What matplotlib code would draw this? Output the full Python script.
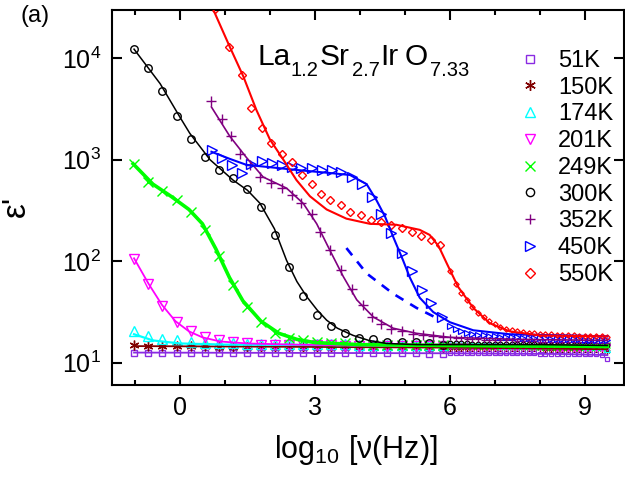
import matplotlib
matplotlib.use('Agg')
import matplotlib.pyplot as plt
from matplotlib.lines import Line2D
from matplotlib.ticker import FixedLocator, NullLocator, FixedFormatter

plt.rcParams['font.family'] = ['Liberation Sans', 'DejaVu Sans']
plt.rcParams['mathtext.fontset'] = 'custom'
plt.rcParams['mathtext.rm'] = 'Liberation Sans'
plt.rcParams['mathtext.it'] = 'Liberation Sans:italic'
plt.rcParams['mathtext.default'] = 'regular'

# ---------------- data (x = log10 frequency, y = epsilon') ----------------
labels = ['51K', '150K', '174K', '201K', '249K', '300K', '352K', '450K', '550K']

logf_a = [-1.02, -0.70, -0.39, -0.07, 0.24, 0.56, 0.87, 1.18, 1.50, 1.81, 2.12, 2.43,
          2.74, 3.05, 3.36, 3.67, 3.98, 4.30, 4.61, 4.93, 5.24, 5.54, 5.85]
logf_hf = [6.0, 6.125, 6.25, 6.375, 6.5, 6.625, 6.75, 6.875, 7.0, 7.125, 7.25, 7.375,
           7.5, 7.625, 7.75, 7.875, 8.0, 8.125, 8.25, 8.375, 8.5, 8.625, 8.75, 8.875,
           9.0, 9.125, 9.25, 9.375, 9.5]
logf_352 = [0.69, 0.93, 1.13, 1.33, 1.56, 1.78, 2.02, 2.26, 2.48, 2.70, 2.93, 3.11,
            3.33, 3.57, 3.82, 4.06, 4.26, 4.48, 4.70, 4.93, 5.17, 5.40, 5.62, 5.85]
logf_450 = [0.72, 0.93, 1.15, 1.38, 1.59, 1.82, 2.04, 2.26, 2.48, 2.70, 2.93, 3.15,
            3.37, 3.59, 3.82, 4.04, 4.26, 4.48, 4.70, 4.93, 5.15, 5.37, 5.59, 5.82]
logf_550 = [0.79, 1.09, 1.39, 1.59, 1.82, 2.02, 2.26, 2.49, 2.72, 2.93, 3.13, 3.33,
            3.57, 3.79, 4.02, 4.24, 4.48, 4.70, 4.93, 5.15, 5.35, 5.57, 5.79]

eps_51K = [12.6, 12.6, 12.6, 12.6, 12.6, 12.6, 12.6, 12.5, 12.5, 12.5, 12.5, 12.5,
           12.5, 12.5, 12.5, 12.4, 12.4, 12.4, 12.4, 12.4, 12.4, 12.3, 12.3]
eps_150K = [14.8, 14.5, 14.5, 14.5, 14.5, 14.5, 14.4, 14.4, 14.4, 14.4, 14.4, 14.3,
            14.3, 14.3, 14.3, 14.3, 14.2, 14.2, 14.2, 14.2, 14.2, 14.1, 14.1]
eps_174K = [20.4, 18.2, 17.0, 16.6, 16.2, 15.8, 15.5, 15.5, 15.4, 15.4, 15.3, 15.3,
            15.3, 15.2, 15.2, 15.2, 15.1, 15.1, 15.1, 15.0, 15.0, 15.0, 14.9]
eps_201K = [105, 60.3, 36.3, 25.1, 20.4, 17.8, 16.6, 16.2, 15.5, 15.1, 15.1, 14.8,
            14.8, 14.8, 14.8, 14.5, 14.5, 14.5, 14.5, 14.5, 14.5, 14.5, 14.5]
eps_249K = [912, 603, 490, 398, 309, 204, 112, 58.9, 35.5, 25.1, 19.5, 17.4,
            16.6, 16.2, 15.8, 15.5, 15.5, 15.1, 15.1, 15.1, 14.8, 14.8, 14.8]
eps_300K = [12300, 7940, 4790, 2690, 1585, 1060, 794, 661, 513, 339, 182, 87.1,
            45.7, 29.5, 22.9, 19.5, 17.4, 17.0, 16.2, 16.2, 16.2, 15.5, 15.1]
eps_352K = [3800, 2510, 1700, 1150, 891, 676, 589, 525, 447, 372, 295, 195,
            129, 81.3, 53.7, 37.2, 28.2, 24.0, 21.4, 20.4, 19.1, 18.6, 18.2, 17.8]
eps_450K = [1260, 1050, 891, 741, 912, 977, 933, 891, 851, 832, 832, 794,
            794, 759, 676, 575, 427, 295, 191, 120, 79.4, 52.5, 38.9, 28.2]
eps_550K = [30900, 12900, 6920, 3240, 2040, 1450, 1150, 955, 708, 575, 457, 398,
            355, 309, 288, 257, 245, 229, 214, 195, 178, 162, 145]

hf_51K = [12.6, 12.6, 12.6, 12.6, 12.5, 12.5, 12.5, 12.5, 12.5, 12.5, 12.4, 12.4, 12.4,
          12.4, 12.4, 12.4, 12.3, 12.3, 12.3, 12.3, 12.3, 12.3, 12.2, 12.2, 12.2, 12.1,
          12.1, 12.0, 11.0]
hf_150K = [14.1, 14.1, 14.1, 14.1, 14.1, 14.0, 14.0, 14.0, 14.0, 14.0, 14.0, 13.9, 13.9,
           13.9, 13.9, 13.9, 13.9, 13.8, 13.8, 13.8, 13.8, 13.8, 13.8, 13.7, 13.7, 13.7,
           13.6, 13.6, 13.0]
hf_174K = [14.9, 14.9, 14.9, 14.9, 14.8, 14.8, 14.8, 14.8, 14.8, 14.7, 14.7, 14.7, 14.7,
           14.7, 14.6, 14.6, 14.6, 14.6, 14.6, 14.5, 14.5, 14.5, 14.5, 14.5, 14.4, 14.4,
           14.4, 14.3, 13.8]
hf_201K = [14.5, 14.5, 14.5, 14.5, 14.4, 14.4, 14.4, 14.4, 14.4, 14.3, 14.3, 14.3, 14.3,
           14.3, 14.2, 14.2, 14.2, 14.2, 14.2, 14.1, 14.1, 14.1, 14.1, 14.1, 14.0, 14.0,
           14.0, 13.9, 14.2]
hf_249K = [14.8, 14.8, 14.8, 14.8, 14.7, 14.7, 14.7, 14.7, 14.6, 14.6, 14.6, 14.6, 14.5,
           14.5, 14.5, 14.5, 14.4, 14.4, 14.4, 14.4, 14.3, 14.3, 14.3, 14.3, 14.2, 14.2,
           14.2, 14.2, 14.9]
hf_300K = [15.5, 15.5, 15.5, 15.5, 15.4, 15.4, 15.4, 15.4, 15.3, 15.3, 15.3, 15.3, 15.2,
           15.2, 15.2, 15.2, 15.1, 15.1, 15.1, 15.1, 15.0, 15.0, 15.0, 15.0, 15.0, 14.9,
           14.9, 14.9, 14.9]
hf_352K = [17.8, 17.4, 17.4, 17.0, 17.0, 17.0, 16.8, 16.8, 16.6, 16.6, 16.6, 16.6, 16.4,
           16.4, 16.4, 16.4, 16.2, 16.2, 16.2, 16.2, 16.2, 16.0, 16.0, 16.0, 16.0, 16.0,
           15.8, 15.8, 15.8]
hf_450K = [22.9, 21.4, 20.4, 19.5, 19.1, 18.6, 18.6, 18.2, 18.2, 17.8, 17.8, 17.8, 17.8,
           17.4, 17.4, 17.4, 17.4, 17.4, 17.0, 17.0, 17.0, 17.0, 17.0, 17.0, 16.6, 16.6,
           16.6, 16.6, 16.6]
hf_550K = [79.4, 60.3, 49.0, 41.7, 35.5, 30.9, 28.2, 25.7, 24.0, 22.4, 21.4, 20.9, 20.4,
           20.0, 19.5, 19.5, 19.1, 19.1, 19.1, 18.6, 18.6, 18.6, 18.6, 18.2, 18.2, 18.2,
           18.2, 18.2, 17.8]

# fitted curves
fitx_51K = [-1.02, 3.0, 6.0, 8.5, 9.5]
fity_51K = [12.6, 12.5, 12.4, 12.2, 11.9]
fitx_150K = [-1.02, 2.0, 6.0, 9.5]
fity_150K = [14.6, 14.4, 14.1, 13.6]
fitx_174K = [-1.02, -0.6, 0.0, 1.0, 4.0, 9.5]
fity_174K = [19.1, 16.6, 15.5, 15.1, 14.9, 14.5]
fitx_201K = [-1.02, -0.7, -0.4, -0.1, 0.2, 0.5, 0.9, 1.5, 2.5, 4.0, 6.0, 9.5]
fity_201K = [107, 60.3, 37.2, 25.7, 20.4, 17.8, 16.2, 15.5, 15.1, 14.8, 14.8, 14.5]
fitx_249K = [-1.04, -0.6, -0.2, 0.2, 0.5, 0.8, 1.1, 1.4, 1.8, 2.2, 2.6, 3.0, 4.0, 6.0, 9.5]
fity_249K = [912, 575, 437, 324, 234, 132, 69.2, 40.7, 25.7, 19.5, 17.0, 15.8, 15.1, 14.8, 14.5]
fitx_300K = [-1.02, -0.44, 0.0, 0.22, 0.67, 1.18, 1.5, 1.78, 2.1, 2.37, 2.6, 2.82, 3.05,
             3.26, 3.5, 3.85, 4.2, 4.59, 5.26, 6.5, 8.0, 9.5]
fity_300K = [12300, 5620, 2630, 1820, 1000, 631, 501, 372, 209, 102, 63.1, 44.7, 33.1,
             26.3, 21.9, 18.6, 16.6, 15.5, 15.1, 15.1, 15.1, 14.8]
fitx_352K = [0.70, 1.11, 1.48, 1.85, 2.37, 2.74, 3.04, 3.33, 3.63, 3.93, 4.30, 4.74, 5.26,
             6.0, 7.5, 9.5]
fity_352K = [3310, 1700, 1050, 676, 525, 372, 234, 129, 70.8, 41.7, 28.2, 21.9, 19.5,
             17.8, 17.0, 16.6]
fitx_450K = [0.70, 1.11, 1.48, 1.93, 2.59, 3.33, 3.78, 4.15, 4.37, 4.56, 4.74, 4.96, 5.11,
             5.33, 5.63, 6.0, 6.52, 7.33, 9.5]
fity_450K = [1200, 1020, 891, 851, 794, 741, 708, 575, 398, 275, 174, 102, 69.2,
             43.7, 31.6, 25.1, 20.9, 19.1, 18.2]
dashx_450K = [3.70, 4.15, 4.74, 5.26, 5.80]
dashy_450K = [135, 75.9, 47.9, 34.7, 26.3]
fitx_550K = [0.60, 1.11, 1.41, 1.70, 2.0, 2.30, 2.59, 2.89, 3.26, 3.70, 4.22, 4.81, 5.33,
             5.55, 5.75, 5.93, 6.18, 6.52, 6.89, 7.33, 8.0, 9.5]
fity_550K = [41700, 12900, 6610, 3090, 1585, 1000, 631, 437, 324, 263, 234, 229, 204,
             182, 141, 95.5, 56.2, 34.7, 24.5, 20.4, 18.6, 18.2]

# title pieces: (text, is_subscript, left pixel)
title_parts = [('La', False, 257), ('1.2', True, 291), ('Sr', False, 320),
               ('2.7', True, 352), ('Ir', False, 380), ('O', False, 405),
               ('7.33', True, 430)]

# ---------------- styling ----------------
colors = ['#8A2BE2', '#800000', '#00FFFF', '#FF00FF', '#00FF00', '#000000',
          '#800080', '#0000FF', '#FF0000']
markers = ['s', (6, 2, 0), '^', 'v', 'x', 'o', '+', '>', 'D']
msizes = [4.8, 7, 6.5, 6.5, 6.5, 5.4, 6.5, 6.5, 4.4]
lwidths = [1.3, 1.3, 1.6, 1.3, 2.6, 1.1, 1.2, 1.5, 1.5]

lf_x = [logf_a, logf_a, logf_a, logf_a, logf_a, logf_a, logf_352, logf_450, logf_550]
lf_y = [eps_51K, eps_150K, eps_174K, eps_201K, eps_249K, eps_300K, eps_352K, eps_450K, eps_550K]
hf_y = [hf_51K, hf_150K, hf_174K, hf_201K, hf_249K, hf_300K, hf_352K, hf_450K, hf_550K]
fit_x = [fitx_51K, fitx_150K, fitx_174K, fitx_201K, fitx_249K, fitx_300K, fitx_352K, fitx_450K, fitx_550K]
fit_y = [fity_51K, fity_150K, fity_174K, fity_201K, fity_249K, fity_300K, fity_352K, fity_450K, fity_550K]

fig = plt.figure(figsize=(6.25, 4.8), dpi=100)
ax = fig.add_axes([112/625, 95/480, 512/625, 375/480])
ax.set_yscale('log')

for i in range(len(labels)):
    c = colors[i]
    ax.plot(lf_x[i], lf_y[i], ls='none', marker=markers[i], ms=msizes[i],
            mfc='none', mec=c, mew=1.0, zorder=2)
    ax.plot(logf_hf, hf_y[i], ls='none', marker=markers[i], ms=msizes[i]*0.62,
            mfc='none', mec=c, mew=0.9, zorder=2)
    ax.plot(fit_x[i], fit_y[i], '-', color=c, lw=lwidths[i], zorder=3)

ax.plot(dashx_450K, dashy_450K, '--', color='#0000FF', lw=1.9, dashes=(3.5, 3), zorder=3)

ax.set_xlim(-1.51, 9.87)
ax.set_ylim(6.04, 29900)

ax.xaxis.set_major_locator(FixedLocator([0, 3, 6, 9]))
ax.xaxis.set_minor_locator(FixedLocator([-1, 1, 2, 4, 5, 7, 8]))
ax.yaxis.set_major_locator(FixedLocator([10, 100, 1000, 10000]))
ax.yaxis.set_major_formatter(FixedFormatter([r'$10^1$', r'$10^2$', r'$10^3$', r'$10^4$']))
ax.yaxis.set_minor_locator(NullLocator())

ax.tick_params(which='both', direction='in', top=True, right=True, width=1.5,
               labelsize=18)
ax.tick_params(which='major', length=7, pad=8)
ax.tick_params(which='minor', length=3.5)
for s in ax.spines.values():
    s.set_linewidth(1.5)

ax.set_xlabel('log$_{10}$ [ν(Hz)]', fontsize=22)
ax.xaxis.set_label_coords(0.4766, -0.128)
ax.set_ylabel("ε'", fontsize=24)
ax.yaxis.set_label_coords(-0.156, 0.477)

for txt, sub, xpix in title_parts:
    if sub:
        fig.text(xpix/625, 1 - 76/480, txt, fontsize=14.5, va='baseline', ha='left')
    else:
        fig.text(xpix/625, 1 - 65/480, txt, fontsize=21.5, va='baseline', ha='left')

fig.text(21/625, 1 - 22/480, '(a)', fontsize=17, va='baseline', ha='left')

handles = [Line2D([], [], ls='none', marker=markers[i], ms=msizes[i]*1.1, mfc='none',
                  mec=colors[i], mew=1.0) for i in range(len(labels))]
ax.legend(handles, labels, loc='upper left', bbox_to_anchor=(518/625, 1 - 50/480),
          bbox_transform=fig.transFigure, frameon=False, fontsize=17,
          handlelength=1.0, handletextpad=0.69, labelspacing=0.2, borderpad=0,
          borderaxespad=0)

fig.savefig('out.png', dpi=100)
